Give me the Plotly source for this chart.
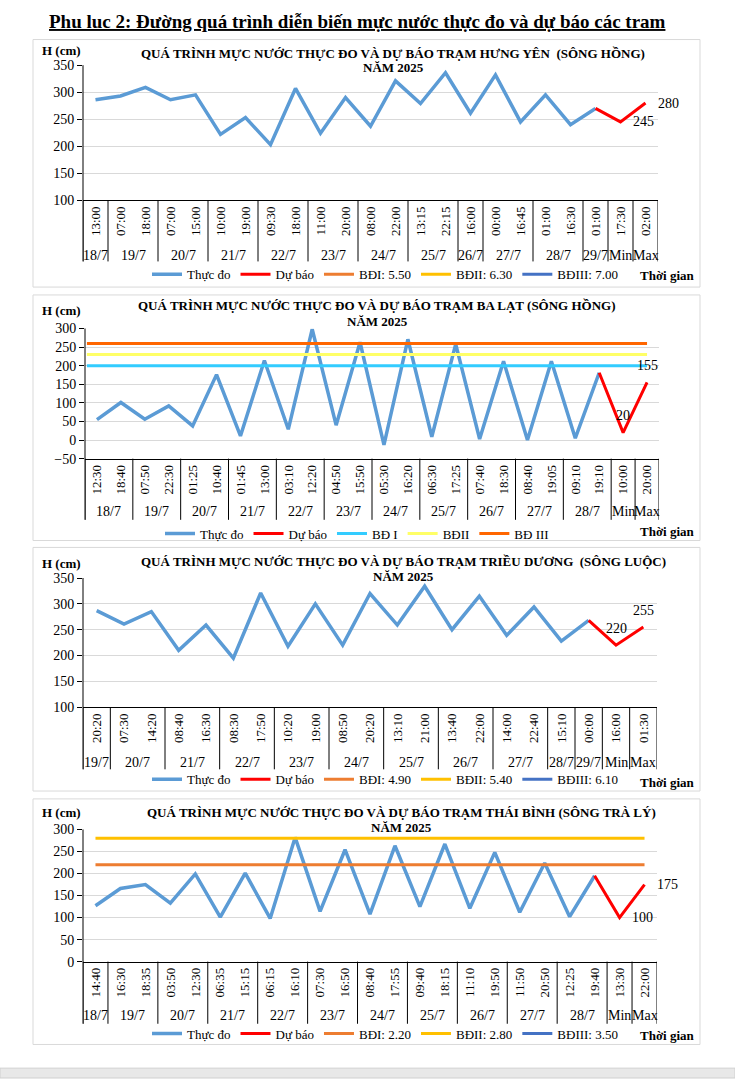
import plotly.graph_objects as go

W, H = 735, 1086
FONT = "Liberation Serif"

# ---------------- DATA ----------------
main_title = "Phu luc 2: Đường quá trình diễn biến mực nước thực đo và dự báo các tram"
year_title = "NĂM 2025"
y_label = "H (cm)"
x_label = "Thời gian"
obs_name = "Thực đo"
fc_name = "Dự báo"

# Chart 1 - Hưng Yên
hy_title = "QUÁ TRÌNH MỰC NƯỚC THỰC ĐO VÀ DỰ BÁO TRẠM HƯNG YÊN  (SÔNG HỒNG)"
hy_times = ["13:00", "07:00", "18:00", "07:00", "15:00", "10:00", "19:00", "09:30", "18:00",
            "11:00", "20:00", "08:00", "22:00", "13:15", "22:15", "16:00", "00:00", "16:45",
            "01:00", "16:30", "01:00", "17:30", "02:00"]
hy_dates = ["18/7", "19/7", "20/7", "21/7", "22/7", "23/7", "24/7", "25/7", "26/7", "27/7",
            "28/7", "29/7", "Min", "Max"]
hy_counts = [1, 2, 2, 2, 2, 2, 2, 2, 1, 2, 2, 1, 1, 1]
hy_obs = [286, 293, 309, 286, 295, 222, 253, 203, 307, 224, 290, 237, 321, 279, 336, 261,
          332, 245, 295, 240, 270]
hy_fc = [245, 280]
hy_thr_names = ["BĐI: 5.50", "BĐII: 6.30", "BĐIII: 7.00"]
hy_thr = [550, 630, 700]

# Chart 2 - Ba Lạt
bl_title = "QUÁ TRÌNH MỰC NƯỚC THỰC ĐO VÀ DỰ BÁO TRẠM BA LẠT (SÔNG HỒNG)"
bl_times = ["12:30", "18:40", "07:50", "22:30", "01:25", "10:40", "01:45", "13:00", "03:10",
            "12:20", "04:50", "15:50", "05:30", "16:20", "06:30", "17:25", "07:40", "18:30",
            "08:40", "19:05", "09:10", "19:10", "10:00", "20:00"]
bl_dates = ["18/7", "19/7", "20/7", "21/7", "22/7", "23/7", "24/7", "25/7", "26/7", "27/7",
            "28/7", "Min", "Max"]
bl_counts = [2, 2, 2, 2, 2, 2, 2, 2, 2, 2, 2, 1, 1]
bl_obs = [55, 101, 56, 92, 38, 176, 11, 214, 29, 298, 40, 263, -13, 271, 9, 258, 3, 212,
          0, 212, 5, 181]
bl_fc = [20, 155]
bl_thr_names = ["BĐ I", "BĐII", "BĐ III"]
bl_thr = [200, 230, 260]

# Chart 3 - Triều Dương
td_title = "QUÁ TRÌNH MỰC NƯỚC THỰC ĐO VÀ DỰ BÁO TRẠM TRIỀU DƯƠNG  (SÔNG LUỘC)"
td_times = ["20:20", "07:30", "14:20", "08:40", "16:30", "08:30", "17:50", "10:20", "19:00",
            "08:50", "20:20", "13:10", "21:00", "13:40", "22:00", "14:00", "22:40", "15:10",
            "00:00", "16:00", "01:30"]
td_dates = ["19/7", "20/7", "21/7", "22/7", "23/7", "24/7", "25/7", "26/7", "27/7", "28/7",
            "29/7", "Min", "Max"]
td_counts = [1, 2, 2, 2, 2, 2, 2, 2, 2, 1, 1, 1, 1]
td_obs = [287, 261, 285, 210, 259, 195, 321, 218, 300, 220, 320, 259, 334, 250, 315, 239,
          294, 228, 268]
td_fc = [220, 255]
td_thr_names = ["BĐI: 4.90", "BĐII: 5.40", "BĐIII: 6.10"]
td_thr = [490, 540, 610]

# Chart 4 - Thái Bình
tb_title = "QUÁ TRÌNH MỰC NƯỚC THỰC ĐO VÀ DỰ BÁO TRẠM THÁI BÌNH (SÔNG TRÀ LÝ)"
tb_times = ["14:40", "16:30", "18:35", "03:50", "12:30", "06:35", "15:15", "06:15", "16:10",
            "07:30", "16:50", "08:40", "17:55", "09:40", "18:15", "11:10", "19:50", "11:50",
            "20:50", "12:25", "19:40", "13:30", "22:00"]
tb_dates = ["18/7", "19/7", "20/7", "21/7", "22/7", "23/7", "24/7", "25/7", "26/7", "27/7",
            "28/7", "Min", "Max"]
tb_counts = [1, 2, 2, 2, 2, 2, 2, 2, 2, 2, 2, 1, 1]
tb_obs = [127, 166, 175, 133, 199, 101, 201, 98, 282, 114, 254, 108, 263, 125, 267, 121,
          248, 112, 224, 102, 195]
tb_fc = [100, 175]
tb_thr_names = ["BĐI: 2.20", "BĐII: 2.80", "BĐIII: 3.50"]
tb_thr = [220, 280, 350]

# ---------------- STYLE / GEOMETRY (pixels) ----------------
THR_STD = ["#ED7D31", "#FFC000", "#4472C4"]
THR_BL = ["#33CCFF", "#FFFF66", "#FF6600"]

charts = [
    dict(title=hy_title, times=hy_times, dates=hy_dates, counts=hy_counts, obs=hy_obs, fc=hy_fc,
         thr_names=hy_thr_names, thr=hy_thr, thr_colors=THR_STD, thr_x0=0.0,
         yrange=[100, 350], left=83, right=658, top=59, bottom=196, sep_bottom=258, date_y=252,
         legend_y=271, legend_cx=385, t1_y=47, t2_y=61, t_cx=393, h_y=44, tg_y=272,
         frame=(33, 33, 700, 284), lab="right"),
    dict(title=bl_title, times=bl_times, dates=bl_dates, counts=bl_counts, obs=bl_obs, fc=bl_fc,
         thr_names=bl_thr_names, thr=bl_thr, thr_colors=THR_BL, thr_x0=-0.42,
         yrange=[-50, 300], left=85, right=659, top=326, bottom=458, sep_bottom=520, date_y=512,
         legend_y=534, legend_cx=357, t1_y=303, t2_y=319, t_cx=377, h_y=308, tg_y=532,
         frame=(33, 292, 700, 541), lab="above"),
    dict(title=td_title, times=td_times, dates=td_dates, counts=td_counts, obs=td_obs, fc=td_fc,
         thr_names=td_thr_names, thr=td_thr, thr_colors=THR_STD, thr_x0=0.0,
         yrange=[100, 350], left=83, right=657, top=579, bottom=710, sep_bottom=773, date_y=766,
         legend_y=783, legend_cx=385, t1_y=562, t2_y=577, t_cx=403, h_y=564, tg_y=786,
         frame=(33, 548, 700, 795), lab="above"),
    dict(title=tb_title, times=tb_times, dates=tb_dates, counts=tb_counts, obs=tb_obs, fc=tb_fc,
         thr_names=tb_thr_names, thr=tb_thr, thr_colors=THR_STD, thr_x0=0.0,
         yrange=[0, 300], left=83, right=657, top=834, bottom=968, sep_bottom=1031, date_y=1023,
         legend_y=1041, legend_cx=385, t1_y=817, t2_y=832, t_cx=401, h_y=817, tg_y=1043,
         frame=(33, 803, 700, 1052), lab="right"),
]


def fx(p):
    return p / W


def fy(p):
    return 1 - p / H


fig = go.Figure()
shapes = []
annotations = []
layout = {}

for k, c in enumerate(charts, start=1):
    sfx = "" if k == 1 else str(k)
    xa, ya = "x" + sfx, "y" + sfx
    lg = "legend" + sfx
    n = len(c["times"])
    nobs = len(c["obs"])

    # observed
    fig.add_trace(go.Scatter(x=list(range(nobs)), y=c["obs"], mode="lines", name=obs_name,
                             line=dict(color="#5B9BD5", width=3.5), xaxis=xa, yaxis=ya,
                             legend=lg, hoverinfo="skip"))
    # forecast: last observation -> Min -> Max
    fc_y = [c["obs"][-1]] + c["fc"]
    fc_x = list(range(nobs - 1, nobs - 1 + len(fc_y)))
    fig.add_trace(go.Scatter(x=fc_x, y=fc_y, mode="lines", name=fc_name,
                             line=dict(color="#FF0000", width=3), xaxis=xa, yaxis=ya,
                             legend=lg, hoverinfo="skip"))
    # thresholds
    for nm, v, col in zip(c["thr_names"], c["thr"], c["thr_colors"]):
        fig.add_trace(go.Scatter(x=[c["thr_x0"], n - 1], y=[v, v], mode="lines", name=nm,
                                 line=dict(color=col, width=3), xaxis=xa, yaxis=ya,
                                 legend=lg, hoverinfo="skip"))

    # value labels for forecast min / max
    for i, v in enumerate(c["fc"]):
        xi = nobs + i
        if c["lab"] == "right":
            annotations.append(dict(x=xi, y=v, xref=xa, yref=ya, text=str(v), showarrow=False,
                                    xshift=23, font=dict(family=FONT, size=14, color="black")))
        else:
            annotations.append(dict(x=xi, y=v, xref=xa, yref=ya, text=str(v), showarrow=False,
                                    yshift=17, font=dict(family=FONT, size=14, color="black")))

    layout["xaxis" + sfx] = dict(
        domain=[fx(c["left"]), fx(c["right"])], anchor=ya, range=[-0.5, n - 0.5],
        tickmode="array", tickvals=list(range(n)), ticktext=c["times"], tickangle=-90,
        showgrid=False, zeroline=False, showline=True, linecolor="black", linewidth=1,
        ticks="", tickfont=dict(family=FONT, size=13, color="black"), fixedrange=True)
    layout["yaxis" + sfx] = dict(
        domain=[fy(c["bottom"]), fy(c["top"])], anchor=xa, range=c["yrange"], dtick=50,
        showgrid=True, gridcolor="#D9D9D9", gridwidth=1, zeroline=False, showline=False,
        ticks="outside", ticklen=5, tickcolor="black",
        tickfont=dict(family=FONT, size=14, color="black"), fixedrange=True)

    layout[lg] = dict(orientation="h", x=fx(c["legend_cx"]), xanchor="center",
                      y=fy(c["legend_y"]), yanchor="middle", bgcolor="rgba(0,0,0,0)",
                      font=dict(family=FONT, size=13, color="black"), itemwidth=30,
                      tracegroupgap=0, itemclick=False, itemdoubleclick=False)

    # frame
    x0, y0, x1, y1 = c["frame"]
    shapes.append(dict(type="rect", xref="paper", yref="paper", x0=fx(x0), x1=fx(x1),
                       y0=fy(y1), y1=fy(y0), line=dict(color="#D9D9D9", width=1),
                       fillcolor="rgba(0,0,0,0)", layer="below"))
    # vertical axis line (extends through the category area)
    shapes.append(dict(type="line", xref="paper", yref="paper", x0=fx(c["left"]),
                       x1=fx(c["left"]), y0=fy(c["top"]), y1=fy(c["sep_bottom"]),
                       line=dict(color="black", width=1)))
    # date group separators and labels
    start = 0
    bounds = [-0.5]
    for d, cnt in zip(c["dates"], c["counts"]):
        annotations.append(dict(x=start + (cnt - 1) / 2, y=fy(c["date_y"]), xref=xa,
                                yref="paper", text=d, showarrow=False, yanchor="middle",
                                font=dict(family=FONT, size=14, color="black")))
        start += cnt
        bounds.append(start - 0.5)
    for b in bounds:
        shapes.append(dict(type="line", xref=xa, yref="paper", x0=b, x1=b,
                           y0=fy(c["bottom"]), y1=fy(c["sep_bottom"]),
                           line=dict(color="black", width=1)))

    # titles
    annotations.append(dict(x=fx(c["t_cx"]), y=fy(c["t1_y"]), xref="paper", yref="paper",
                            text="<b>" + c["title"] + "</b>", showarrow=False,
                            xanchor="center", yanchor="middle",
                            font=dict(family=FONT, size=13, color="black")))
    annotations.append(dict(x=fx(c["t_cx"]), y=fy(c["t2_y"]), xref="paper", yref="paper",
                            text="<b>" + year_title + "</b>", showarrow=False,
                            xanchor="center", yanchor="middle",
                            font=dict(family=FONT, size=13, color="black")))
    annotations.append(dict(x=fx(61), y=fy(c["h_y"]), xref="paper", yref="paper",
                            text="<b>" + y_label + "</b>", showarrow=False,
                            xanchor="center", yanchor="middle",
                            font=dict(family=FONT, size=13, color="black")))
    annotations.append(dict(x=fx(667), y=fy(c["tg_y"]), xref="paper", yref="paper",
                            text="<b>" + x_label + "</b>", showarrow=False,
                            xanchor="center", yanchor="middle",
                            font=dict(family=FONT, size=13, color="black")))

# main title
annotations.append(dict(x=fx(357), y=fy(15), xref="paper", yref="paper",
                        text="<b><u>" + main_title + "</u></b>", showarrow=False,
                        xanchor="center", yanchor="middle",
                        font=dict(family=FONT, size=19, color="black")))
# bottom grey strip
shapes.append(dict(type="rect", xref="paper", yref="paper", x0=0, x1=1, y0=0, y1=fy(1076),
                   line=dict(color="#D0D0D0", width=1), fillcolor="#E8E8E8", layer="below"))

fig.update_layout(width=W, height=H, autosize=False, margin=dict(l=0, r=0, t=0, b=0),
                  paper_bgcolor="white", plot_bgcolor="white", showlegend=True,
                  shapes=shapes, annotations=annotations, **layout)

fig.write_html("out.html", config={"displayModeBar": False},
               post_script="var s=document.createElement('style');"
                           "s.innerHTML='html,body{margin:0 !important;padding:0 !important;"
                           "overflow:hidden !important;}';"
                           "document.head.appendChild(s);"
                           "document.body.style.margin='0';")
